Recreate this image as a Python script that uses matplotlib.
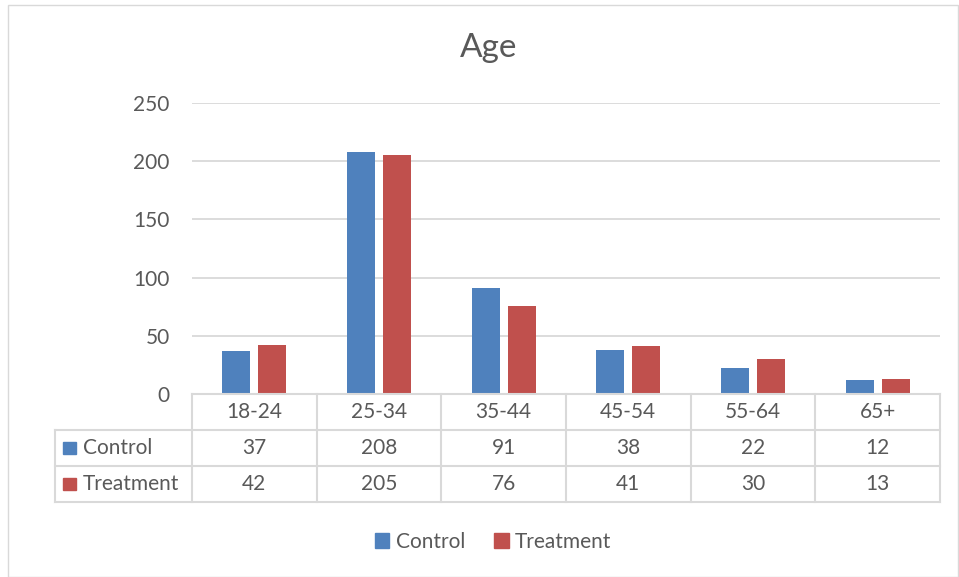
import matplotlib.pyplot as plt
import matplotlib.patches as mpatches
import numpy as np

plt.rcParams['font.family'] = ['Lato', 'DejaVu Sans']

# data
age_groups = ['18-24', '25-34', '35-44', '45-54', '55-64', '65+']
control = [37, 208, 91, 38, 22, 12]
treatment = [42, 205, 76, 41, 30, 13]
series_names = ['Control', 'Treatment']

blue = '#4F81BD'
red = '#C0504D'
txt = '#595959'
grid = '#D9D9D9'
fs = 15

W, H = 959, 577
fig = plt.figure(figsize=(W / 100, H / 100), dpi=100)

def px(x0, y0, x1, y1):
    # pixel box (top-left origin) -> figure fraction rect
    return [x0 / W, 1 - y1 / H, (x1 - x0) / W, (y1 - y0) / H]

# outer chart border
fig.patches.append(mpatches.Rectangle((8 / W, 0), (W - 9) / W, (H - 5) / H,
                                      transform=fig.transFigure, fill=False,
                                      edgecolor=grid, linewidth=1))

# bar chart
ax = fig.add_axes(px(192, 103, 940, 394))
x = np.arange(len(age_groups))
bw = 0.225
ax.bar(x - 0.145, control, bw, color=blue, zorder=3)
ax.bar(x + 0.145, treatment, bw, color=red, zorder=3)
ax.set_xlim(-0.5, len(age_groups) - 0.5)
ax.set_ylim(0, 250)
ax.set_yticks(range(0, 251, 50))
ax.yaxis.grid(True, color=grid, linewidth=1.3, zorder=0)
ax.set_xticks([])
for s in ax.spines.values():
    s.set_visible(False)
ax.tick_params(axis='y', length=0, labelsize=fs, labelcolor=txt, pad=16)

fig.text(489 / W, 1 - 48 / H, 'Age', ha='center', va='center', fontsize=24, color=txt)

# data table
lab_w = (192 - 55) / ((940 - 192) / len(age_groups))
tax = fig.add_axes(px(55, 394, 940, 502))
tax.set_xlim(-0.5 - lab_w, len(age_groups) - 0.5)
tax.set_ylim(3, 0)
tax.axis('off')
lw = 1.5
for i in range(len(age_groups) + 1):
    tax.plot([i - 0.5, i - 0.5], [0, 3], color=grid, lw=lw, clip_on=False)
tax.plot([-0.5 - lab_w] * 2, [1, 3], color=grid, lw=lw, clip_on=False)
tax.plot([-0.5, len(age_groups) - 0.5], [0, 0], color=grid, lw=lw, clip_on=False)
for r in (1, 2, 3):
    tax.plot([-0.5 - lab_w, len(age_groups) - 0.5], [r, r], color=grid, lw=lw, clip_on=False)

for i, g in enumerate(age_groups):
    tax.text(i, 0.5, g, ha='center', va='center', fontsize=fs, color=txt)
    tax.text(i, 1.5, str(control[i]), ha='center', va='center', fontsize=fs, color=txt)
    tax.text(i, 2.5, str(treatment[i]), ha='center', va='center', fontsize=fs, color=txt)

for r, (name, c) in enumerate(zip(series_names, [blue, red])):
    x0 = -0.5 - lab_w + 0.065
    tax.add_patch(mpatches.Rectangle((x0, 1.5 + r - 0.18), 0.105, 0.36, color=c, clip_on=False))
    tax.text(x0 + 0.16, 1.5 + r, name, ha='left', va='center', fontsize=fs, color=txt)

# legend
handles = [mpatches.Patch(color=blue, label=series_names[0]),
           mpatches.Patch(color=red, label=series_names[1])]
fig.legend(handles=handles, loc='center', bbox_to_anchor=(493 / W, 1 - 542 / H), ncol=2,
           frameon=False, fontsize=fs, labelcolor=txt, handlelength=0.7, handleheight=0.7,
           handletextpad=0.3, columnspacing=1.4)

fig.savefig('out.png', dpi=100)
